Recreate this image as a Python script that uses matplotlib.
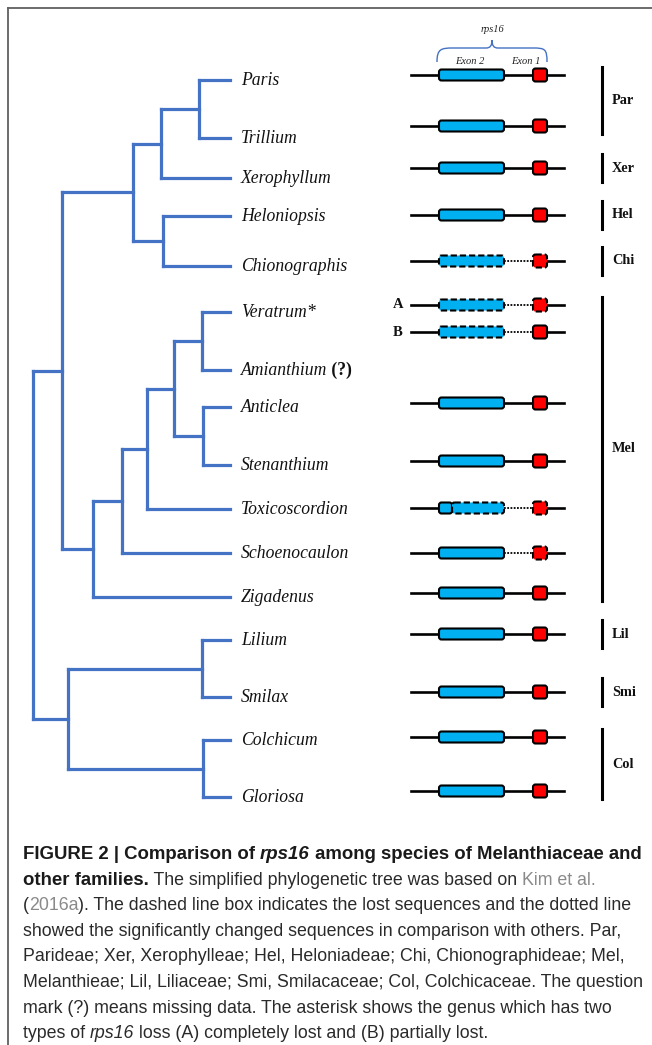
import matplotlib
matplotlib.use("Agg")
import matplotlib.pyplot as plt
from matplotlib.patches import FancyBboxPatch, PathPatch
from matplotlib.path import Path
from matplotlib.font_manager import FontProperties

# ---- data ----
taxa = ['Paris', 'Trillium', 'Xerophyllum', 'Heloniopsis', 'Chionographis',
        'Veratrum', 'Amianthium', 'Anticlea', 'Stenanthium', 'Toxicoscordion',
        'Schoenocaulon', 'Zigadenus', 'Lilium', 'Smilax', 'Colchicum', 'Gloriosa']
taxa_suffix = {'Veratrum': ('*', 'italic'), 'Amianthium': (' (?)', 'bold')}

# (node depth, children)
tree = (33, [
    (62, [
        (133, [(161, [(199, ['Paris', 'Trillium']), 'Xerophyllum']),
               (163, ['Heloniopsis', 'Chionographis'])]),
        (93, [(122, [(147, [(174, [(202, ['Veratrum', 'Amianthium']),
                                   (203, ['Anticlea', 'Stenanthium'])]),
                            'Toxicoscordion']),
                     'Schoenocaulon']),
              'Zigadenus'])]),
    (68, [(202, ['Lilium', 'Smilax']), (203, ['Colchicum', 'Gloriosa'])])])

gene_rows = ['Paris', 'Trillium', 'Xerophyllum', 'Heloniopsis', 'Chionographis',
             'A', 'B', 'Anticlea', 'Stenanthium', 'Toxicoscordion',
             'Schoenocaulon', 'Zigadenus', 'Lilium', 'Smilax', 'Colchicum', 'Gloriosa']
exon2_state = ['full', 'full', 'full', 'full', 'lost', 'lost', 'lost', 'full', 'full',
               'partial', 'full', 'full', 'full', 'full', 'full', 'full']
intron_changed = [False, False, False, False, True, True, True, False, False,
                  True, True, False, False, False, False, False]
exon1_state = ['full', 'full', 'full', 'full', 'lost', 'lost', 'full', 'full', 'full',
               'lost', 'lost', 'full', 'full', 'full', 'full', 'full']

tribes = ['Par', 'Xer', 'Hel', 'Chi', 'Mel', 'Lil', 'Smi', 'Col']
tribe_first = ['Paris', 'Xerophyllum', 'Heloniopsis', 'Chionographis', 'A', 'Lilium', 'Smilax', 'Colchicum']
tribe_last = ['Trillium', 'Xerophyllum', 'Heloniopsis', 'Chionographis', 'Zigadenus', 'Lilium', 'Smilax', 'Gloriosa']

# ---- layout (pixels) ----
tip_y = [80, 138, 178, 216, 266, 312, 370, 407, 465, 509, 553, 597, 640, 697, 740, 797]
gene_y = [75, 126, 168, 215, 261, 305, 332, 403, 461, 508, 553, 593, 634, 692, 737, 791]
TIP_X = 230
LINE_X = (411, 564)
EX2 = (439, 504)
EX1 = (533, 547)
BLUE_TREE = '#4472C4'

fig = plt.figure(figsize=(6.52, 10.45), dpi=100)
ax = fig.add_axes([0, 0, 1, 1])
ax.set_xlim(0, 652)
ax.set_ylim(1045, 0)
ax.axis('off')

# frame
ax.plot([8, 652], [8, 8], color='#606060', lw=1.3)
ax.plot([8, 8], [8, 1045], color='#606060', lw=1.3)


# ---- tree ----
def clade(node):
    if isinstance(node, str):
        return TIP_X, tip_y[taxa.index(node)]
    x, kids = node
    pts = [clade(k) for k in kids]
    ys = [p[1] for p in pts]
    for cx, cy in pts:
        ax.plot([x, cx], [cy, cy], color=BLUE_TREE, lw=2.3, solid_capstyle='projecting')
    ax.plot([x, x], [min(ys), max(ys)], color=BLUE_TREE, lw=2.3, solid_capstyle='projecting')
    return x, (min(ys) + max(ys)) / 2


clade(tree)

serif = 'Liberation Serif'
for name, y in zip(taxa, tip_y):
    t = ax.text(241, y + 5, name, family=serif, style='italic', fontsize=12.7,
                va='baseline', color='#111')
    if name in taxa_suffix:
        suf, kind = taxa_suffix[name]
        fig.canvas.draw()
        bb = t.get_window_extent()
        if kind == 'bold':
            ax.text(bb.x1, y + 5, suf, family=serif, weight='bold', fontsize=12.7,
                    va='baseline', color='#111')
        else:
            ax.text(bb.x1, y + 5, suf, family=serif, style='italic', fontsize=12.7,
                    va='baseline', color='#111')


# ---- gene diagrams ----
def box(x0, x1, y, h, color, dashed):
    p = FancyBboxPatch((x0, y - h / 2), x1 - x0, h,
                       boxstyle='round,pad=0,rounding_size=2.5',
                       fc=color, ec='black', lw=1.5, zorder=3,
                       linestyle=(0, (3, 1.4)) if dashed else '-')
    ax.add_patch(p)


for i, (row, y) in enumerate(zip(gene_rows, gene_y)):
    ax.plot([LINE_X[0], EX2[0]], [y, y], color='black', lw=1.9, zorder=2)
    ax.plot([EX1[1], LINE_X[1]], [y, y], color='black', lw=1.9, zorder=2)
    if intron_changed[i]:
        ax.plot([EX2[1], EX1[0]], [y, y], color='black', lw=1.3, ls=(0, (1, 0.8)), zorder=2)
    else:
        ax.plot([EX2[1], EX1[0]], [y, y], color='black', lw=1.9, zorder=2)
    st = exon2_state[i]
    if st == 'partial':
        cut = EX2[0] + 0.2 * (EX2[1] - EX2[0])
        box(EX2[0], cut, y, 11, '#00B0F0', False)
        box(cut, EX2[1], y, 11, '#00B0F0', True)
    else:
        box(EX2[0], EX2[1], y, 11, '#00B0F0', st == 'lost')
    box(EX1[0], EX1[1], y, 13, '#FF0000', exon1_state[i] == 'lost')
    if row in ('A', 'B'):
        ax.text(398, y, row, family=serif, weight='bold', fontsize=10.5,
                ha='center', va='center', color='#111')

# rps16 brace and labels
verts = [(EX2[0] - 2, 62), (EX2[0] - 2, 49), (EX2[0] + 2, 48), (EX2[0] + 14, 48),
         (486, 48),
         (490, 48), (492, 46), (492, 40),
         (492, 46), (494, 48), (498, 48),
         (EX1[1] - 14, 48),
         (EX1[1] - 2, 48), (EX1[1], 49), (EX1[1], 62)]
codes = [Path.MOVETO, Path.CURVE4, Path.CURVE4, Path.CURVE4, Path.LINETO,
         Path.CURVE4, Path.CURVE4, Path.CURVE4,
         Path.CURVE4, Path.CURVE4, Path.CURVE4,
         Path.LINETO, Path.CURVE4, Path.CURVE4, Path.CURVE4]
ax.add_patch(PathPatch(Path(verts, codes), fc='none', ec=BLUE_TREE, lw=1.0))
ax.text(492, 30, 'rps16', family=serif, style='italic', fontsize=7.5,
        ha='center', va='center', color='#222')
ax.text(470, 62, 'Exon 2', family=serif, style='italic', fontsize=7.5,
        ha='center', va='center', color='#222')
ax.text(526, 62, 'Exon 1', family=serif, style='italic', fontsize=7.5,
        ha='center', va='center', color='#222')

# tribe brackets
for name, a, b in zip(tribes, tribe_first, tribe_last):
    y0 = gene_y[gene_rows.index(a)]
    y1 = gene_y[gene_rows.index(b)]
    pad = 14 if a == b else 8
    ax.plot([602, 602], [y0 - pad, y1 + pad], color='black', lw=2.2)
    ax.text(612, (y0 + y1) / 2, name, family=serif, weight='bold', fontsize=10.3,
            va='center', color='#111')

# ---- caption ----
caption_lines = [
    [("FIGURE 2 | Comparison of ", 'b'), ("rps16", 'bi'), (" among species of Melanthiaceae and", 'b')],
    [("other families.", 'b'), (" The simplified phylogenetic tree was based on ", 'n'), ("Kim et al.", 'link')],
    [("(", 'n'), ("2016a", 'link'), ("). The dashed line box indicates the lost sequences and the dotted line", 'n')],
    [("showed the significantly changed sequences in comparison with others. Par,", 'n')],
    [("Parideae; Xer, Xerophylleae; Hel, Heloniadeae; Chi, Chionographideae; Mel,", 'n')],
    [("Melanthieae; Lil, Liliaceae; Smi, Smilacaceae; Col, Colchicaceae. The question", 'n')],
    [("mark (?) means missing data. The asterisk shows the genus which has two", 'n')],
    [("types of ", 'n'), ("rps16", 'i'), (" loss (A) completely lost and (B) partially lost.", 'n')],
]
REG, BOLD = 12.8, 13.4
fonts = {
    'n': FontProperties(family='Liberation Sans', size=REG),
    'link': FontProperties(family='Liberation Sans', size=REG),
    'i': FontProperties(family='Liberation Sans', style='italic', size=REG),
    'b': FontProperties(family='Liberation Sans', weight='bold', size=BOLD),
    'bi': FontProperties(family='Liberation Sans', weight='bold', style='italic', size=BOLD),
}
colors = {'n': '#2a2a2a', 'link': '#8a8a8a', 'i': '#2a2a2a', 'b': '#1a1a1a', 'bi': '#1a1a1a'}
renderer = fig.canvas.get_renderer()


def run_width(s, fp):
    t1 = ax.text(0, 0, '|' + s + '|', fontproperties=fp)
    w1 = t1.get_window_extent(renderer).width
    t1.remove()
    t2 = ax.text(0, 0, '||', fontproperties=fp)
    w2 = t2.get_window_extent(renderer).width
    t2.remove()
    return w1 - w2


for k, runs in enumerate(caption_lines):
    x = 23
    y = 859 + k * 25.6
    for s, kind in runs:
        ax.text(x, y, s, fontproperties=fonts[kind], color=colors[kind], va='baseline')
        x += run_width(s, fonts[kind])

fig.savefig('out.png', dpi=100)
